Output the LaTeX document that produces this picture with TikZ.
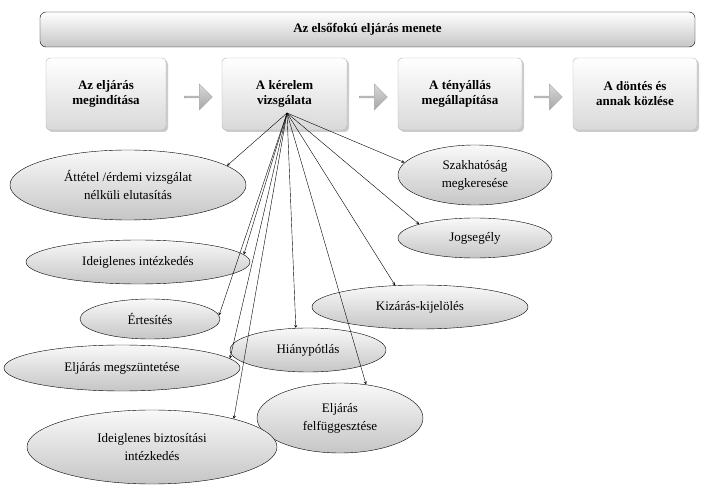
\documentclass[tikz,border=0pt]{standalone}
\usepackage{fontspec}
\setmainfont{Liberation Serif}
\usetikzlibrary{shapes.geometric,shapes.arrows,shadows}
\tikzset{
  stepbox/.style={draw=gray!60, rounded corners=4pt, top color=white, bottom color=gray!30,
    drop shadow={shadow xshift=2pt,shadow yshift=-2pt,opacity=0.4},
    minimum width=120pt, minimum height=72pt, align=center, font=\bfseries\fontsize{13}{15}\selectfont},
  oval/.style={ellipse, draw, top color=gray!5, bottom color=gray!45, inner sep=0pt,
    align=center, font=\fontsize{13}{18}\selectfont},
  blockarrow/.style={single arrow, draw=gray!70, top color=gray!30, bottom color=gray!70,
    minimum height=28pt, minimum width=26pt, single arrow head extend=3pt, inner sep=0pt},
  link/.style={->, >=stealth}
}
\begin{document}
\begin{tikzpicture}[x=1pt,y=-1pt]
        \useasboundingbox (0,0) rectangle (713,489);
        % fejlec
        \node (title) [draw, rounded corners=6pt, top color=white, bottom color=gray!45,
          minimum width=655pt, minimum height=35pt, font=\bfseries\fontsize{13}{15}\selectfont]
          at (367.5,29.5) {Az elsőfokú eljárás menete};

        % lepesek
        \node (s1) [stepbox] at (106,94) {Az eljárás\\megindítása};
        \node (s2) [stepbox, minimum width=125pt] at (284.5,94) {A kérelem\\vizsgálata};
        \node (s3) [stepbox, minimum width=124pt] at (460,94) {A tényállás\\megállapítása};
        \node (s4) [stepbox, minimum width=124pt] at (635,94) {A döntés és\\annak közlése};
        \node (a1) [blockarrow] at (198,97) {};
        \node (a2) [blockarrow] at (373,97) {};
        \node (a3) [blockarrow] at (548,97) {};

        % ellipszisek
        \node (e1) [oval, minimum width=236pt, minimum height=70pt] at (128,185) {Áttétel /érdemi vizsgálat\\nélküli elutasítás};
        \node (e2) [oval, minimum width=154pt, minimum height=60pt] at (475,175) {Szakhatóság\\megkeresése};
        \node (e3) [oval, minimum width=154pt, minimum height=40pt] at (475,238) {Jogsegély};
        \node (e4) [oval, minimum width=224pt, minimum height=44pt] at (138,262) {Ideiglenes intézkedés};
        \node (e5) [oval, minimum width=140pt, minimum height=40pt] at (150,319) {Értesítés};
        \node (e6) [oval, minimum width=216pt, minimum height=44pt] at (420,307) {Kizárás-kijelölés};
        \node (e7) [oval, minimum width=156pt, minimum height=44pt] at (308,350) {Hiánypótlás};
        \node (e8) [oval, minimum width=236pt, minimum height=46pt] at (122,368) {Eljárás megszüntetése};
        \node (e9) [oval, minimum width=166pt, minimum height=70pt] at (340,418) {Eljárás\\felfüggesztése};
        \node (e10) [oval, minimum width=250pt, minimum height=74pt] at (152,447) {Ideiglenes biztosítási\\intézkedés};

        \coordinate (hub) at (287,113);
        \foreach \e/\a in {e1/11,e2/170,e3/166,e4/4,e5/3,e6/139,e7/119,e8/5,e9/52,e10/19}
          \draw [link] (hub) -- (\e.\a);
    \end{tikzpicture}
\end{document}
